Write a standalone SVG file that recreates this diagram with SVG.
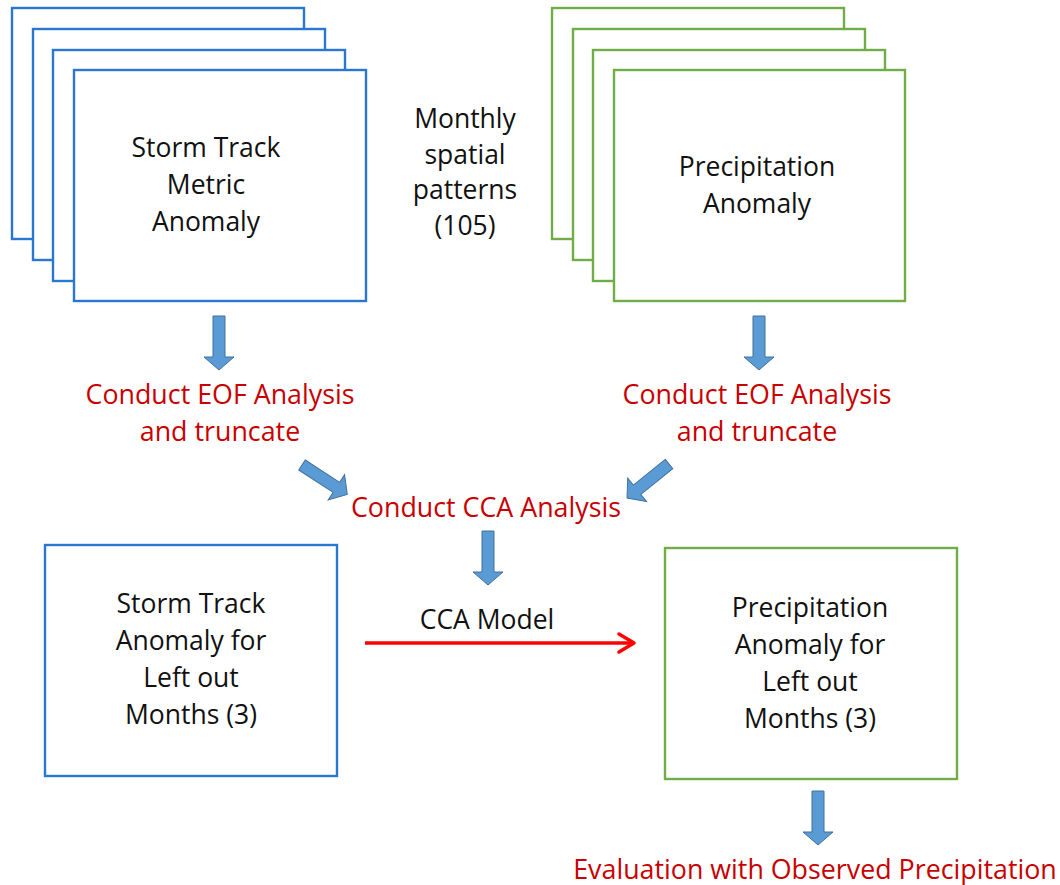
<svg xmlns="http://www.w3.org/2000/svg" width="1060" height="885" viewBox="0 0 1060 885">
<defs>
<style>
.bb{fill:#fff;stroke:#2878CF;stroke-width:2.4}
.gb{fill:#fff;stroke:#70AD47;stroke-width:2.4}
.t{font-family:"Open Sans","Liberation Sans",sans-serif;font-size:26.5px;fill:#111;text-anchor:middle}
.r{font-family:"Open Sans","Liberation Sans",sans-serif;font-size:26.8px;fill:#C80000;text-anchor:middle}
.ba{fill:#5B9BD5;stroke:#41719C;stroke-width:1}
</style>
<path id="da" d="M-6,0 H6 V41 H15 L0,54 L-15,41 H-6 Z"/>
<marker id="chev" markerWidth="10" markerHeight="10" refX="7" refY="5" orient="auto" markerUnits="userSpaceOnUse" viewBox="0 0 10 10" overflow="visible">
<path d="M-8,-4 L7,5 L-8,14" fill="none" stroke="#FF0000" stroke-width="3.5" stroke-linecap="round" stroke-linejoin="round"/>
</marker>
</defs>
<rect width="1060" height="885" fill="#fff"/>

<g id="storm-track-stack">
<rect class="bb" x="12" y="8" width="292" height="231"/>
<rect class="bb" x="33" y="29" width="292" height="231"/>
<rect class="bb" x="53" y="50" width="292" height="231"/>
<rect class="bb" x="74" y="70" width="292" height="231"/>
<text class="t" x="206" y="157">Storm Track</text>
<text class="t" x="206" y="194">Metric</text>
<text class="t" x="206" y="231">Anomaly</text>
</g>

<g id="precip-stack">
<rect class="gb" x="552" y="8" width="292" height="231"/>
<rect class="gb" x="573" y="29" width="292" height="231"/>
<rect class="gb" x="593" y="50" width="292" height="231"/>
<rect class="gb" x="614" y="70" width="291" height="231"/>
<text class="t" x="757" y="176">Precipitation</text>
<text class="t" x="757" y="213">Anomaly</text>
</g>

<g id="monthly-label">
<text class="t" x="465" y="128">Monthly</text>
<text class="t" x="465" y="164">spatial</text>
<text class="t" x="465" y="199">patterns</text>
<text class="t" x="465" y="235">(105)</text>
</g>

<g id="eof-left">
<text class="r" x="220" y="404">Conduct EOF Analysis</text>
<text class="r" x="220" y="441">and truncate</text>
</g>
<g id="eof-right">
<text class="r" x="757" y="404">Conduct EOF Analysis</text>
<text class="r" x="757" y="441">and truncate</text>
</g>
<g id="cca">
<text class="r" x="486" y="517">Conduct CCA Analysis</text>
</g>

<g id="storm-left-out">
<rect class="bb" x="45" y="545" width="292" height="231"/>
<text class="t" x="191" y="613">Storm Track</text>
<text class="t" x="191" y="650">Anomaly for</text>
<text class="t" x="191" y="687">Left out</text>
<text class="t" x="191" y="724">Months (3)</text>
</g>

<g id="precip-left-out">
<rect class="gb" x="665" y="548" width="292" height="231"/>
<text class="t" x="810" y="617">Precipitation</text>
<text class="t" x="810" y="654">Anomaly for</text>
<text class="t" x="810" y="691">Left out</text>
<text class="t" x="810" y="728">Months (3)</text>
</g>

<g id="evaluation">
<text class="r" x="815" y="879">Evaluation with Observed Precipitation</text>
</g>

<g id="connectors">
<use href="#da" class="ba" x="219" y="316"/>
<use href="#da" class="ba" x="759" y="316"/>
<use href="#da" class="ba" transform="translate(302,465) rotate(-57)"/>
<use href="#da" class="ba" transform="translate(669,464) rotate(51)"/>
<use href="#da" class="ba" x="488" y="531"/>
<use href="#da" class="ba" x="818" y="791"/>
<line x1="365" y1="643" x2="634" y2="643" stroke="#FF0000" stroke-width="3.5" marker-end="url(#chev)"/>
<text class="t" x="487" y="629">CCA Model</text>
</g>
</svg>
